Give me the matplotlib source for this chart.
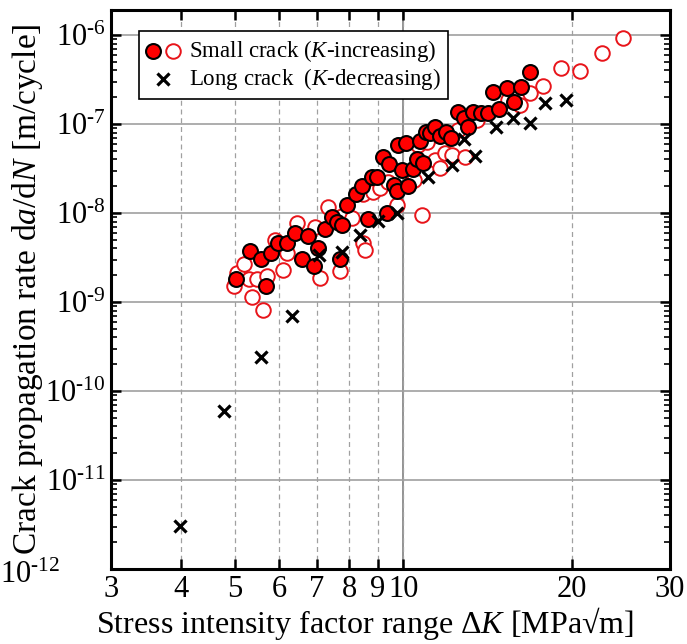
import math
import matplotlib
matplotlib.use("Agg")
import matplotlib.pyplot as plt
from matplotlib.ticker import FixedLocator, NullLocator, LogLocator, FuncFormatter
from matplotlib.legend_handler import HandlerTuple
from matplotlib.transforms import blended_transform_factory

plt.rcParams['font.family'] = ['Liberation Serif', 'DejaVu Serif']
plt.rcParams['mathtext.fontset'] = 'custom'
plt.rcParams['mathtext.rm'] = 'Liberation Serif'
plt.rcParams['mathtext.it'] = 'Liberation Serif:italic'

# Small crack (K-increasing), filled markers
small_filled_dk = [5.01, 5.31, 5.57, 5.69, 5.81, 5.98, 6.20, 6.41, 6.60, 6.76, 6.93, 7.05,
                   7.25, 7.46, 7.62, 7.77, 7.71, 7.94, 8.24, 8.44, 8.79, 8.98, 9.20, 9.43,
                   8.65, 9.35, 9.62, 9.74, 10.20, 9.78, 10.11, 9.95, 10.41, 10.58, 10.84,
                   10.71, 10.98, 11.16, 11.39, 11.62, 11.91, 12.16, 12.51, 12.83, 13.04,
                   13.31, 13.75, 14.16, 14.81, 14.45, 15.31, 15.75, 16.82, 16.21]
small_filled_rate = [1.81e-9, 3.74e-9, 3.04e-9, 1.51e-9, 3.55e-9, 4.60e-9, 4.60e-9, 5.96e-9,
                     3.04e-9, 5.51e-9, 2.54e-9, 4.04e-9, 6.61e-9, 9.02e-9, 7.92e-9, 7.33e-9,
                     3.04e-9, 1.23e-8, 1.64e-8, 2.01e-8, 2.54e-8, 2.54e-8, 4.26e-8, 3.55e-8,
                     8.56e-9, 1.00e-8, 2.06e-8, 1.77e-8, 2.01e-8, 5.81e-8, 6.12e-8, 3.04e-8,
                     3.12e-8, 4.04e-8, 3.65e-8, 6.50e-8, 8.13e-8, 7.92e-8, 9.25e-8, 7.33e-8,
                     8.13e-8, 6.96e-8, 1.36e-7, 1.17e-7, 9.25e-8, 1.36e-7, 1.33e-7, 1.33e-7,
                     1.47e-7, 2.29e-7, 2.54e-7, 1.77e-7, 3.84e-7, 2.60e-7]

# Small crack (K-increasing), open markers
small_open_dk = [4.97, 5.05, 5.18, 5.29, 5.48, 5.71, 5.37, 5.60, 6.08, 6.20, 5.90, 6.46,
                 6.96, 7.10, 7.34, 7.71, 7.77, 8.10, 8.48, 8.83, 9.09, 9.39, 9.74, 10.37,
                 10.80, 8.48, 8.55, 10.62, 11.02, 11.39, 11.62, 11.86, 12.21, 12.51, 12.88,
                 13.53, 10.45, 15.37, 24.74, 22.70, 20.74, 19.18, 17.81, 16.88, 16.14]
small_open_rate = [1.51e-9, 2.12e-9, 2.67e-9, 1.81e-9, 1.81e-9, 1.96e-9, 1.14e-9, 8.13e-10,
                   2.29e-9, 3.55e-9, 4.97e-9, 7.72e-9, 6.96e-9, 1.86e-9, 1.17e-8, 2.23e-9,
                   9.25e-9, 8.79e-9, 1.64e-8, 1.72e-8, 1.91e-8, 2.23e-8, 1.23e-8, 2.29e-8,
                   9.50e-9, 4.60e-9, 3.84e-9, 5.81e-8, 6.27e-8, 3.94e-8, 3.20e-8, 4.72e-8,
                   4.48e-8, 8.56e-8, 4.26e-8, 1.11e-7, 2.35e-8, 1.86e-7, 9.25e-7, 6.28e-7,
                   3.94e-7, 4.26e-7, 2.67e-7, 2.23e-7, 1.64e-7]

# Long crack (K-decreasing)
long_dk = [3.98, 4.77, 5.57, 6.33, 7.08, 7.77, 8.37, 9.01, 9.74, 11.07, 12.21, 12.83,
           13.42, 14.63, 15.69, 16.88, 17.96, 19.58]
long_rate = [3.04e-12, 5.96e-11, 2.41e-10, 6.96e-10, 3.37e-9, 3.65e-9, 5.66e-9, 8.13e-9,
             1.00e-8, 2.54e-8, 3.46e-8, 6.78e-8, 4.37e-8, 9.25e-8, 1.17e-7, 1.03e-7,
             1.72e-7, 1.86e-7]

x_ticks = [3, 4, 5, 6, 7, 8, 9, 10, 20, 30]
y_decades = [-12, -11, -10, -9, -8, -7, -6]


def ylab(d):
    return r'$10^{\text{-}%d}$' % (-d)


fig = plt.figure(figsize=(6.87, 6.44), dpi=100)
ax = fig.add_axes([0.1616, 0.1165, 0.8137, 0.868])
ax.set_xscale('log')
ax.set_yscale('log')
ax.set_xlim(3, 30)
ax.set_ylim(1e-12, 1.91e-6)

ax.xaxis.set_major_locator(FixedLocator(x_ticks))
ax.xaxis.set_minor_locator(NullLocator())
ax.xaxis.set_major_formatter(FuncFormatter(lambda v, p: '%d' % round(v)))
ax.yaxis.set_major_locator(FixedLocator([10.0 ** d for d in y_decades]))
ax.yaxis.set_minor_locator(LogLocator(base=10, subs=range(2, 10), numticks=20))


def yfmt(v, p):
    d = round(math.log10(v))
    if d == min(y_decades):
        return ''
    return ylab(d)


ax.yaxis.set_major_formatter(FuncFormatter(yfmt))
ax.yaxis.set_minor_formatter(FuncFormatter(lambda v, p: ''))

# bottom-most decade label, shifted left as in the original
tr = blended_transform_factory(fig.transFigure, ax.transData)
ax.text(0.0, 10.0 ** min(y_decades) * 0.85, ylab(min(y_decades)), transform=tr,
        ha='left', va='center', fontsize=22)

ax.grid(True, axis='y', which='major', color='#a0a0a0', lw=1.2, ls='-', zorder=0)
ax.grid(True, axis='x', which='major', color='#a0a0a0', lw=0.9, ls=(0, (4, 3)), zorder=0)
ax.axvline(10, color='#8a8a8a', lw=1.3, zorder=0.5)

ax.scatter(small_open_dk, small_open_rate, s=110, facecolors='white', edgecolors='#e8141a',
           linewidths=1.4, zorder=2)
ax.scatter(small_filled_dk, small_filled_rate, s=115, facecolors='#ff0000', edgecolors='black',
           linewidths=1.5, zorder=3)
ax.scatter(long_dk, long_rate, s=75, marker='x', color='black', linewidths=2.3, zorder=4)

for sp in ax.spines.values():
    sp.set_linewidth(2.2)
ax.tick_params(axis='both', which='major', direction='in', length=7, width=1.8,
               labelsize=22, top=True, right=True, pad=4)
ax.tick_params(axis='y', which='minor', direction='in', length=4, width=1.2, right=True, left=True)

ax.set_xlabel(r'Stress intensity factor range Δ$K$ [MPa√m]', fontsize=23, labelpad=1)
ax.xaxis.set_label_coords(0.455, -0.065)
ax.set_ylabel(r'Crack propagation rate d$a$/d$N$ [m/cycle]', fontsize=24, labelpad=0)

h_fill = ax.scatter([], [], s=115, facecolors='#ff0000', edgecolors='black', linewidths=1.5)
h_open = ax.scatter([], [], s=110, facecolors='white', edgecolors='#e8141a', linewidths=1.4)
h_x = ax.scatter([], [], s=75, marker='x', color='black', linewidths=2.3)
leg = ax.legend([(h_fill, h_open), (h_x,)],
                ['Small crack ($K$-increasing)', 'Long crack  ($K$-decreasing)'],
                handler_map={tuple: HandlerTuple(ndivide=None, pad=0.3)},
                loc='upper left', bbox_to_anchor=(0.05, 0.962), fontsize=16.5,
                frameon=True, fancybox=False, edgecolor='black', framealpha=1,
                handlelength=1.5, handletextpad=0.4, borderpad=0.3, labelspacing=0.1,
                borderaxespad=0)
leg.get_frame().set_linewidth(1.2)
leg.set_zorder(10)

fig.savefig('out.png', dpi=100)
